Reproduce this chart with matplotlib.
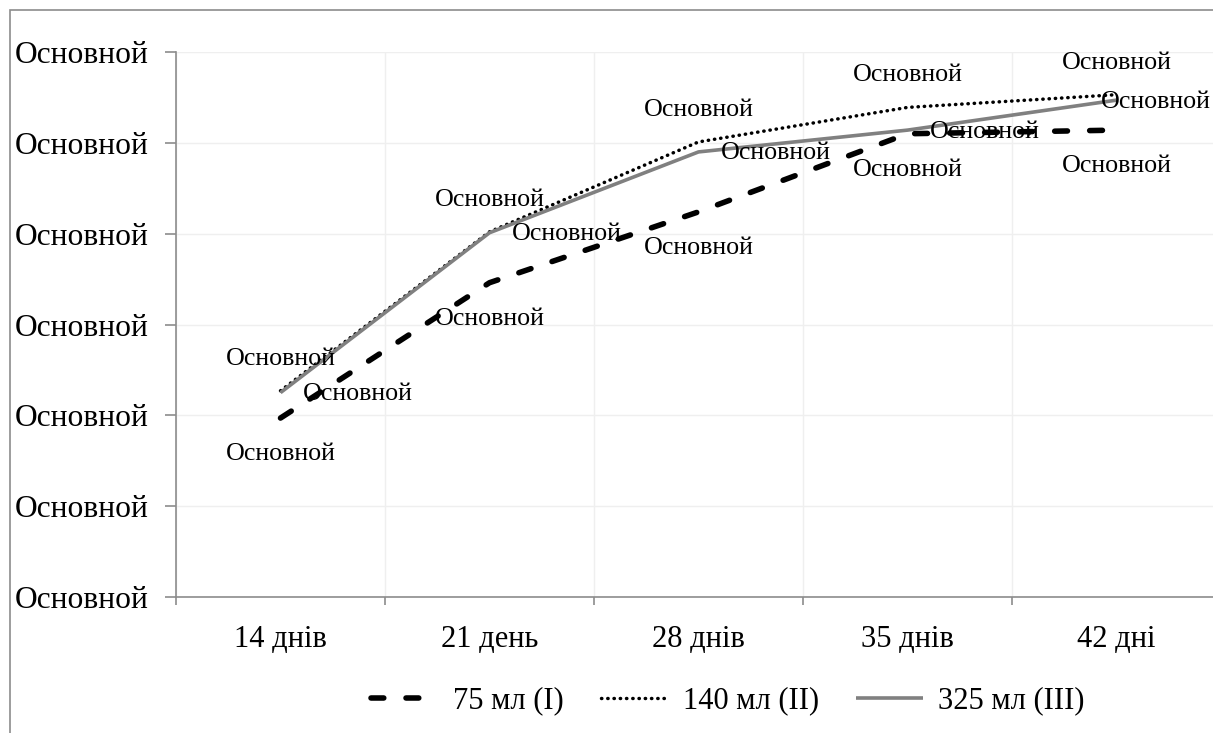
import matplotlib
matplotlib.use("Agg")
import matplotlib.pyplot as plt
from matplotlib.patches import Rectangle
import numpy as np

plt.rcParams['font.family'] = ['Liberation Serif', 'DejaVu Serif']

days = ["14 днів", "21 день", "28 днів", "35 днів", "42 дні"]
vol_75 = [1.97, 3.46, 4.24, 5.10, 5.14]
vol_140 = [2.27, 4.02, 5.01, 5.39, 5.53]
vol_325 = [2.25, 4.01, 4.90, 5.14, 5.47]
series_names = ["75 мл (I)", "140 мл (II)", "325 мл (III)"]
point_label = "Основной"
y_ticks = [0, 1, 2, 3, 4, 5, 6]

fig = plt.figure(figsize=(12.13, 7.33), dpi=100)
ax = fig.add_axes([176 / 1213, 1 - 597 / 733, 1045 / 1213, 545 / 733])

# outer chart frame
fig.patches.append(Rectangle((10 / 1213, -0.05), 1.1, 1 - 10 / 733 + 0.05,
                             transform=fig.transFigure, fill=False,
                             edgecolor="#8c8c8c", linewidth=1.2))

x = np.arange(len(days))
l1, = ax.plot(x, vol_75, color="black", linewidth=4.0, linestyle=(0, (2.3, 4.0)),
              dash_capstyle="round", label=series_names[0])
l2, = ax.plot(x, vol_140, color="black", linewidth=2.5, linestyle=(0, (0.1, 1.7)),
              dash_capstyle="round", label=series_names[1])
l3, = ax.plot(x, vol_325, color="#808080", linewidth=2.6, solid_capstyle="butt",
              label=series_names[2])

lbl_kw = dict(textcoords="offset points", fontsize=18.7, zorder=5)
for i in range(len(days)):
    ax.annotate(point_label, (x[i], vol_140[i]), xytext=(0, 23),
                ha="center", va="center", **lbl_kw)
    ax.annotate(point_label, (x[i], vol_75[i]), xytext=(0, -26),
                ha="center", va="center", **lbl_kw)
    dx = 16 if i < len(days) - 1 else -11
    ax.annotate(point_label, (x[i], vol_325[i]), xytext=(dx, -1),
                ha="left", va="center", **lbl_kw)

ax.set_xlim(-0.5, 4.5)
ax.set_ylim(0, 6)
ax.set_xticks(x)
ax.set_xticklabels(days, fontsize=22)
ax.set_xticks(np.arange(-0.5, 5.0, 1.0), minor=True)
ax.set_yticks(y_ticks)
ax.set_yticklabels([point_label] * len(y_ticks), fontsize=22.7)

ax.tick_params(axis="x", which="major", length=0, pad=20)
ax.tick_params(axis="x", which="minor", length=6, color="#8c8c8c", width=1.2)
ax.tick_params(axis="y", length=8, color="#8c8c8c", width=1.2, pad=12)

ax.grid(True, which="minor", axis="x", color="#efefef", linewidth=1)
ax.grid(True, which="major", axis="y", color="#efefef", linewidth=1)
ax.set_axisbelow(True)

for side in ["top", "right"]:
    ax.spines[side].set_visible(False)
for side in ["left", "bottom"]:
    ax.spines[side].set_color("#8c8c8c")
    ax.spines[side].set_linewidth(1.2)

fig.legend(handles=[l1, l2, l3], loc="center", bbox_to_anchor=(0.600, 1 - 701 / 733),
           ncol=3, frameon=False, fontsize=22, handlelength=2.2,
           columnspacing=1.2, handletextpad=0.5)

fig.savefig("out.png", dpi=100)
